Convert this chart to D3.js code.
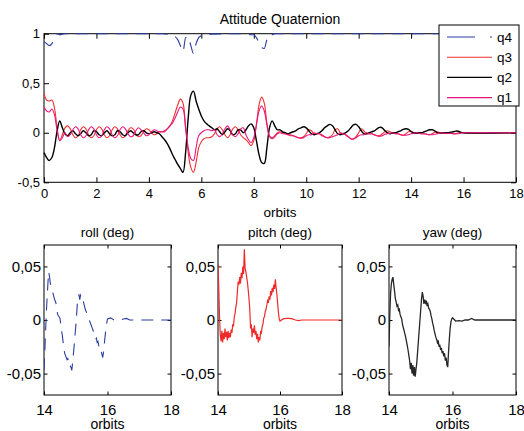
<!DOCTYPE html>
<html>
<head>
<meta charset="utf-8">
<script src="https://d3js.org/d3.v7.min.js"></script>
<style>
  body { margin: 0; background: #fff; }
  svg { display: block; font-family: "Liberation Sans", Arial, Helvetica, sans-serif; }
</style>
</head>
<body>
<svg id="chart" width="524" height="431"></svg>
<script>
// ---- data: attitude quaternion (orbits 0..16 step 0.1, flat to 18)
const tTop = d3.range(0, 161).map(i => i / 10).concat([18]);

const q3 = [
  0.40, 0.33, 0.32, 0.33, 0.25, 0.05, -0.08, -0.02, 0.05, 0.07,
  0.04, -0.02, -0.05, -0.03, 0.03, 0.06, 0.04, -0.02, -0.05, -0.03,
  0.03, 0.06, 0.04, -0.02, -0.05, -0.03, 0.03, 0.06, 0.04, -0.02,
  -0.05, -0.03, 0.02, 0.05, 0.04, -0.01, -0.04, -0.03, 0.01, 0.04,
  0.03, 0.00, -0.02, -0.01, 0.01, 0.01, 0.01, 0.04, 0.07, 0.12,
  0.20, 0.28, 0.34, 0.30, 0.05, -0.20, -0.35, -0.40, -0.30, -0.15,
  -0.09, -0.06, -0.05, -0.05, -0.04, -0.01, 0.04, 0.06, 0.03, -0.02,
  -0.05, -0.02, 0.04, 0.06, 0.03, -0.02, -0.05, -0.07, -0.10, -0.13,
  -0.08, 0.08, 0.28, 0.36, 0.30, 0.10, -0.03, -0.05, -0.03, 0.00,
  0.01, 0.00, -0.01, -0.02, -0.03, -0.03, -0.04, -0.05, -0.05, -0.04,
  -0.01, 0.03, 0.02, -0.01, -0.01, -0.01, -0.03, -0.04, -0.05, -0.04,
  -0.02, 0.03, 0.04, 0.00, -0.01, -0.02, -0.04, -0.06, -0.06, -0.04,
  0.00, 0.04, 0.02, -0.01, -0.01, -0.01, -0.02, -0.03, -0.03, -0.01,
  0.01, 0.02, 0.01, -0.005, -0.01, -0.01, -0.02, -0.025, -0.01, 0.01,
  0.015, 0.00, -0.005, -0.005, -0.01, -0.01, -0.015, -0.02, -0.01, 0.005,
  0.01, 0.00, -0.005, -0.005, -0.005, -0.005, -0.01, -0.01, 0.00, 0.005,
  0.00, 0.00
];

const q2 = [
  -0.20, -0.25, -0.28, -0.25, -0.15, 0.02, 0.12, 0.05, -0.01, -0.03,
  0.00, 0.02, -0.01, -0.03, -0.01, 0.02, 0.00, -0.03, -0.02, 0.02,
  0.01, -0.02, -0.03, 0.00, 0.02, -0.01, -0.03, -0.02, 0.02, 0.01,
  -0.02, -0.03, 0.00, 0.02, 0.00, -0.02, -0.02, 0.01, 0.02, 0.00,
  -0.01, 0.00, 0.01, 0.00, -0.01, -0.04, -0.07, -0.11, -0.16, -0.22,
  -0.27, -0.32, -0.36, -0.40, -0.20, 0.15, 0.38, 0.42, 0.32, 0.24,
  0.17, 0.12, 0.09, 0.07, 0.05, 0.03, 0.04, 0.01, -0.02, 0.01,
  0.04, 0.02, -0.02, -0.01, 0.03, 0.03, 0.00, 0.03, 0.07, 0.09,
  0.05, -0.08, -0.22, -0.30, -0.31, -0.15, 0.05, 0.12, 0.07, 0.03,
  0.03, 0.01, 0.00, -0.01, 0.00, 0.01, 0.02, 0.04, 0.05, 0.06,
  0.05, 0.02, -0.01, -0.02, -0.01, 0.00, 0.02, 0.05, 0.07, 0.085,
  0.07, 0.03, -0.01, -0.02, -0.01, 0.00, 0.02, 0.05, 0.08, 0.085,
  0.06, 0.02, -0.01, -0.01, 0.00, 0.01, 0.02, 0.04, 0.055, 0.05,
  0.02, 0.00, -0.01, 0.00, 0.00, 0.01, 0.02, 0.035, 0.04, 0.035,
  0.01, 0.00, -0.005, 0.00, 0.00, 0.01, 0.02, 0.03, 0.03, 0.02,
  0.00, -0.005, 0.00, 0.00, 0.00, 0.005, 0.01, 0.017, 0.015, 0.005,
  0.00, 0.00
];

const q1 = [
  0.26, 0.22, 0.21, 0.24, 0.18, 0.02, -0.08, -0.05, 0.00, -0.04,
  -0.02, 0.03, 0.06, 0.04, -0.02, -0.05, -0.03, 0.03, 0.06, 0.04,
  -0.02, -0.05, -0.03, 0.03, 0.06, 0.04, -0.02, -0.05, -0.03, 0.03,
  0.06, 0.04, -0.01, -0.04, -0.03, 0.02, 0.05, 0.03, 0.00, -0.03,
  -0.02, 0.01, 0.03, 0.02, 0.01, 0.01, 0.02, 0.04, 0.07, 0.10,
  0.15, 0.21, 0.26, 0.24, 0.05, -0.15, -0.26, -0.28, -0.15, -0.03,
  0.00, 0.02, 0.03, 0.03, 0.02, 0.03, -0.02, -0.04, -0.01, 0.04,
  0.07, 0.03, -0.02, -0.04, -0.01, 0.04, 0.05, -0.02, -0.07, -0.10,
  -0.05, 0.08, 0.22, 0.27, 0.22, 0.08, -0.04, -0.06, -0.04, -0.01,
  0.00, -0.01, -0.01, -0.02, -0.02, -0.03, -0.04, -0.05, -0.055, -0.05,
  -0.03, -0.02, -0.02, 0.00, -0.01, -0.01, -0.02, -0.04, -0.05, -0.05,
  -0.04, -0.03, -0.02, 0.00, -0.01, -0.02, -0.04, -0.06, -0.065, -0.05,
  -0.03, -0.02, -0.02, 0.00, -0.01, -0.01, -0.02, -0.03, -0.035, -0.03,
  -0.015, -0.01, -0.005, 0.00, -0.01, -0.01, -0.02, -0.025, -0.025, -0.02,
  -0.01, -0.005, 0.00, -0.005, -0.01, -0.01, -0.015, -0.02, -0.02, -0.015,
  -0.01, -0.005, 0.00, -0.005, -0.005, -0.005, -0.01, -0.01, -0.01, -0.005,
  0.00, 0.00
];

// q4 sits at 1 except for a few dips
const tQ4 = [0, 0.1, 0.2, 0.3, 0.4, 0.5, 0.6, 0.8, 4.5, 4.8, 5.0, 5.1, 5.2, 5.3, 5.4,
  5.5, 5.6, 5.7, 5.8, 5.9, 6.0, 6.2, 7.7, 7.9, 8.0, 8.1, 8.2, 8.3, 8.4, 8.5, 8.6, 8.7, 8.8, 9.0, 18];
const q4 = [0.92, 0.90, 0.88, 0.90, 0.96, 1.0, 0.99, 1.0, 1.0, 0.99, 0.97, 0.94, 0.88, 0.82, 0.96,
  0.97, 0.88, 0.80, 0.90, 0.96, 0.98, 0.995, 1.0, 0.99, 0.99, 0.96, 0.91, 0.86, 0.85, 0.94, 0.99, 0.99, 1.0, 1.0, 1.0];

// ---- data: euler angles (deg), orbits 14..16 step 0.025, then tail to 18
const tBottom = d3.range(0, 81).map(i => 14 + i * 0.025).concat([16.1, 16.2, 16.3, 16.4, 16.5, 16.6, 16.7, 18]);

const roll = [
  -0.047, -0.030, -0.010, 0.008, 0.022, 0.035, 0.045, 0.040, 0.034, 0.032,
  0.030, 0.026, 0.023, 0.020, 0.018, 0.016, 0.010, 0.006, 0.004, 0.003,
  0.002, -0.003, -0.009, -0.014, -0.020, -0.026, -0.031, -0.033, -0.035, -0.037,
  -0.036, -0.040, -0.039, -0.043, -0.044, -0.047, -0.040, -0.032, -0.024, -0.015,
  -0.006, 0.004, 0.015, 0.021, 0.024, 0.019, 0.023, 0.021, 0.022, 0.019,
  0.016, 0.013, 0.010, 0.008, 0.006, 0.004, 0.002, 0.000, -0.002, -0.004,
  -0.006, -0.008, -0.010, -0.013, -0.015, -0.018, -0.017, -0.021, -0.020, -0.024,
  -0.026, -0.025, -0.029, -0.032, -0.035, -0.030, -0.022, -0.015, -0.008, -0.003,
  0.001,
  0.002, 0.000, 0.000, 0.000, 0.001, 0.0015, 0.000, 0.000
];

const pitch = [
  0.052, 0.030, 0.002, -0.014, -0.020, -0.010, -0.021, -0.012, -0.018, -0.008,
  -0.016, -0.011, -0.019, -0.010, -0.017, -0.012, -0.016, -0.009, -0.012, -0.004,
  -0.006, 0.003, 0.006, 0.012, 0.016, 0.026, 0.036, 0.033, 0.040, 0.034,
  0.044, 0.039, 0.050, 0.043, 0.066, 0.048, 0.045, 0.040, 0.035, 0.028,
  0.020, 0.010, -0.008, -0.004, -0.016, -0.008, -0.012, -0.005, -0.014, -0.010,
  -0.018, -0.013, -0.021, -0.016, -0.019, -0.011, -0.012, -0.006, -0.004, 0.002,
  0.003, 0.008, 0.010, 0.014, 0.018, 0.016, 0.022, 0.019, 0.027, 0.023,
  0.030, 0.026, 0.033, 0.029, 0.038, 0.030, 0.024, 0.015, 0.007, 0.001,
  -0.001,
  0.001, 0.0015, 0.0015, 0.001, 0.000, -0.0005, 0.000, 0.000
];

const yaw = [
  -0.025, 0.005, 0.025, 0.034, 0.038, 0.040, 0.033, 0.027, 0.020, 0.017,
  0.013, 0.014, 0.009, 0.010, 0.005, 0.003, 0.001, -0.004, -0.007, -0.010,
  -0.013, -0.016, -0.020, -0.024, -0.028, -0.033, -0.038, -0.046, -0.040, -0.050,
  -0.042, -0.052, -0.044, -0.053, -0.046, -0.040, -0.030, -0.020, -0.010, 0.000,
  0.010, 0.020, 0.026, 0.022, 0.015, 0.019, 0.016, 0.018, 0.013, 0.015,
  0.011, 0.010, 0.008, 0.004, 0.001, -0.003, -0.006, -0.010, -0.013, -0.016,
  -0.018, -0.021, -0.019, -0.025, -0.023, -0.028, -0.026, -0.031, -0.029, -0.034,
  -0.031, -0.038, -0.035, -0.042, -0.044, -0.030, -0.018, -0.008, -0.002, 0.001,
  0.002,
  -0.001, -0.0005, -0.001, 0.000, 0.000, 0.0015, 0.000, 0.000
];

const topXTicks = [0, 2, 4, 6, 8, 10, 12, 14, 16, 18];
const topYTicks = [-0.5, 0, 0.5, 1];
const botXTicks = [14, 16, 18];
const botYTicks = [-0.05, 0, 0.05];

// ---- drawing
const svg = d3.select('#chart');
const fmt = (d) => String(d).replace('.', ',');

function drawFrame(g, x, y, xTicks, yTicks, tick, padX, padY, fontSize) {
  const [x0, x1] = x.range();
  const [y0, y1] = y.range();

  g.append('rect')
    .attr('x', x0).attr('y', y1)
    .attr('width', x1 - x0).attr('height', y0 - y1)
    .attr('fill', 'none').attr('stroke', '#000').attr('stroke-width', 1);

  const axes = [
    [d3.axisBottom(x).tickValues(xTicks).tickPadding(padX).tickFormat(fmt), `translate(0,${y0})`],
    [d3.axisTop(x).tickValues(xTicks).tickFormat(''), `translate(0,${y1})`],
    [d3.axisLeft(y).tickValues(yTicks).tickPadding(padY).tickFormat(fmt), `translate(${x0},0)`],
    [d3.axisRight(y).tickValues(yTicks).tickFormat(''), `translate(${x1},0)`],
  ];
  axes.forEach(([ax, tr]) => {
    const a = g.append('g')
      .attr('transform', tr)
      .call(ax.tickSizeInner(-tick).tickSizeOuter(0));
    a.select('.domain').remove();
    a.selectAll('text').attr('font-size', fontSize).attr('fill', '#000')
      .style('font-family', '"Liberation Sans", Arial, sans-serif');
    a.selectAll('line').attr('stroke', '#000');
  });
}

// top chart
const xTop = d3.scaleLinear().domain([0, 18]).range([44, 516]);
const yTop = d3.scaleLinear().domain([-0.5, 1]).range([182.3, 33.7]);

const topG = svg.append('g');
drawFrame(topG, xTop, yTop, topXTicks, topYTicks, 5, 6, 4, 13);

svg.append('clipPath').attr('id', 'clipTop')
  .append('rect').attr('x', 43).attr('y', 32).attr('width', 475).attr('height', 152);

const lineTop = d3.line()
  .x((d) => xTop(d[0]))
  .y((d) => yTop(d[1]))
  .curve(d3.curveCatmullRom.alpha(0.5));

const plotTop = topG.append('g').attr('clip-path', 'url(#clipTop)');

plotTop.append('path')
  .datum(tQ4.map((t, i) => [t, q4[i]]))
  .attr('fill', 'none')
  .attr('stroke', '#2b3d9f')
  .attr('stroke-width', 1.1)
  .attr('stroke-dasharray', '12,8')
  .attr('d', d3.line().x((d) => xTop(d[0])).y((d) => yTop(d[1])).curve(d3.curveMonotoneX));

const topSeries = [
  { values: q3, color: '#f03030', width: 1.1 },
  { values: q2, color: '#000000', width: 1.4 },
  { values: q1, color: '#e8157f', width: 1.1 },
];
topSeries.forEach((s) => {
  plotTop.append('path')
    .datum(tTop.map((t, i) => [t, s.values[i]]))
    .attr('fill', 'none')
    .attr('stroke', s.color)
    .attr('stroke-width', s.width)
    .attr('d', lineTop);
});

topG.append('text')
  .attr('x', 280).attr('y', 24)
  .attr('text-anchor', 'middle').attr('font-size', 14)
  .text('Attitude Quaternion');

topG.append('text')
  .attr('x', 280).attr('y', 217)
  .attr('text-anchor', 'middle').attr('font-size', 13.5)
  .text('orbits');

// legend
const legendItems = [
  { name: 'q4', color: '#2b3d9f', dash: '28,15' },
  { name: 'q3', color: '#f03030', dash: null },
  { name: 'q2', color: '#000000', dash: null },
  { name: 'q1', color: '#e8157f', dash: null },
];
const legend = svg.append('g');
legend.append('rect')
  .attr('x', 439).attr('y', 25).attr('width', 80).attr('height', 81)
  .attr('fill', '#fff').attr('stroke', '#000');
legend.selectAll('g.item')
  .data(legendItems)
  .join('g')
  .attr('class', 'item')
  .attr('transform', (d, i) => `translate(0,${37 + i * 20.2})`)
  .each(function (d) {
    const g = d3.select(this);
    g.append('line')
      .attr('x1', 447).attr('x2', 492)
      .attr('stroke', d.color).attr('stroke-width', 1.1)
      .attr('stroke-dasharray', d.dash);
    g.append('text')
      .attr('x', 497).attr('dy', '0.35em')
      .attr('font-size', 13.5)
      .text(d.name);
  });

// bottom panels
const panels = [
  { title: 'roll (deg)', values: roll, color: '#2b3d9f', dash: '12,8', width: 1.1, range: [44, 171] },
  { title: 'pitch (deg)', values: pitch, color: '#ee2a2a', dash: null, width: 1.2, range: [218, 342] },
  { title: 'yaw (deg)', values: yaw, color: '#262626', dash: null, width: 1.3, range: [389, 516] },
];

panels.forEach((p, k) => {
  const x = d3.scaleLinear().domain([14, 18]).range(p.range);
  const y = d3.scaleLinear().domain([-0.07, 0.07]).range([395, 245]);
  const g = svg.append('g');
  drawFrame(g, x, y, botXTicks, botYTicks, 3.5, 9, 3, 15);

  g.append('clipPath').attr('id', `clipB${k}`)
    .append('rect').attr('x', p.range[0]).attr('y', 244)
    .attr('width', p.range[1] - p.range[0]).attr('height', 152);

  g.append('path')
    .datum(tBottom.map((t, i) => [t, p.values[i]]))
    .attr('clip-path', `url(#clipB${k})`)
    .attr('fill', 'none')
    .attr('stroke', p.color)
    .attr('stroke-width', p.width)
    .attr('stroke-dasharray', p.dash)
    .attr('d', d3.line().x((d) => x(d[0])).y((d) => y(d[1])));

  const cx = (p.range[0] + p.range[1]) / 2;
  g.append('text')
    .attr('x', cx).attr('y', 237)
    .attr('text-anchor', 'middle').attr('font-size', 13.5)
    .text(p.title);
  g.append('text')
    .attr('x', cx).attr('y', 429)
    .attr('text-anchor', 'middle').attr('font-size', 14)
    .text('orbits');
});
</script>
</body>
</html>
